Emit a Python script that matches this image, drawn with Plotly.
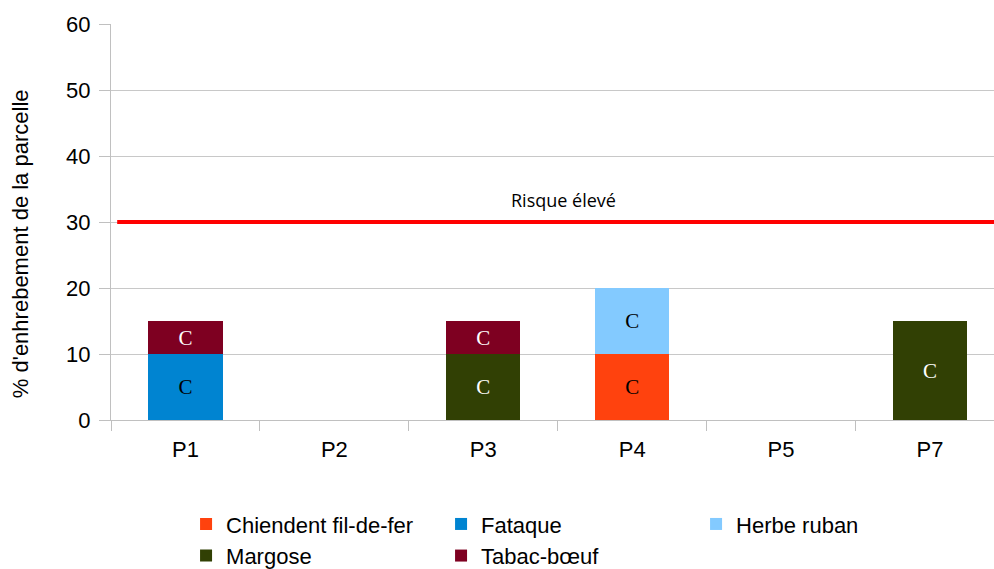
import plotly.graph_objects as go

categories = ["P1", "P2", "P3", "P4", "P5", "P7"]
chiendent = [0, 0, 0, 10, 0, 0]
fataque = [10, 0, 0, 0, 0, 0]
herbe_ruban = [0, 0, 0, 10, 0, 0]
margose = [0, 0, 10, 0, 0, 15]
tabac_boeuf = [5, 0, 5, 0, 0, 0]
threshold = 30
threshold_label = "Risque élevé"
bar_label = "C"
y_title = "% d'enhrebement de la parcelle"

series = [
    ("Chiendent fil-de-fer", chiendent, "#ff420e", "black"),
    ("Fataque", fataque, "#0084d1", "black"),
    ("Herbe ruban", herbe_ruban, "#83caff", "black"),
    ("Margose", margose, "#314004", "white"),
    ("Tabac-bœuf", tabac_boeuf, "#7e0021", "white"),
]

fig = go.Figure()
for name, vals, color, tcolor in series:
    fig.add_trace(go.Bar(
        x=categories,
        y=[v if v > 0 else None for v in vals],
        name=name,
        marker=dict(color=color, line=dict(width=0)),
        text=[bar_label if v > 0 else "" for v in vals],
        textposition="inside",
        insidetextanchor="middle",
        textangle=0,
        textfont=dict(family="Liberation Serif", size=21, color=tcolor),
        hoverinfo="skip",
    ))

fig.add_shape(type="line", xref="paper", yref="y", x0=0.007, x1=1,
              y0=threshold, y1=threshold, line=dict(color="#ff0000", width=4))
fig.add_annotation(xref="paper", yref="y", x=0.512, y=threshold, yanchor="bottom",
                   yshift=8, text=threshold_label, showarrow=False,
                   font=dict(family="Open Sans", size=18, color="black"))
fig.add_annotation(xref="paper", yref="paper", x=-0.103, y=0.444,
                   xanchor="center", yanchor="middle", textangle=-90,
                   text=y_title, showarrow=False,
                   font=dict(family="Liberation Sans", size=22, color="black"))

fig.update_layout(
    width=994, height=569,
    margin=dict(l=111, r=0, t=24, b=149, autoexpand=False),
    barmode="stack", bargap=0.5,
    plot_bgcolor="white", paper_bgcolor="white",
    font=dict(family="Liberation Sans", color="black"),
    uniformtext=dict(mode="show", minsize=21),
    legend=dict(orientation="h", x=0.085, xanchor="left", y=-0.21, yanchor="top",
                font=dict(size=22, family="Liberation Sans"),
                entrywidth=210, entrywidthmode="pixels",
                traceorder="normal", itemclick=False, tracegroupgap=0),
    showlegend=True,
)
fig.update_xaxes(
    range=[-0.5, 5.43], tickfont=dict(size=22), showgrid=False, automargin=False,
    showline=True, linecolor="#c0c0c0", linewidth=1,
    ticks="outside", tickson="boundaries", ticklen=10, tickcolor="#c0c0c0",
    ticklabelstandoff=10,
)
fig.update_yaxes(
    range=[0, 60], dtick=10, tickfont=dict(size=22), automargin=False,
    showgrid=True, gridcolor="#c8c8c8", gridwidth=1,
    showline=True, linecolor="#c0c0c0", linewidth=1,
    ticks="outside", ticklen=11, tickcolor="#c0c0c0",
    ticklabelstandoff=4,
    zeroline=False,
)

fig.write_html(
    "out.html",
    config={"displayModeBar": False},
    post_script="document.body.style.margin='0';document.body.style.overflow='hidden';",
)
